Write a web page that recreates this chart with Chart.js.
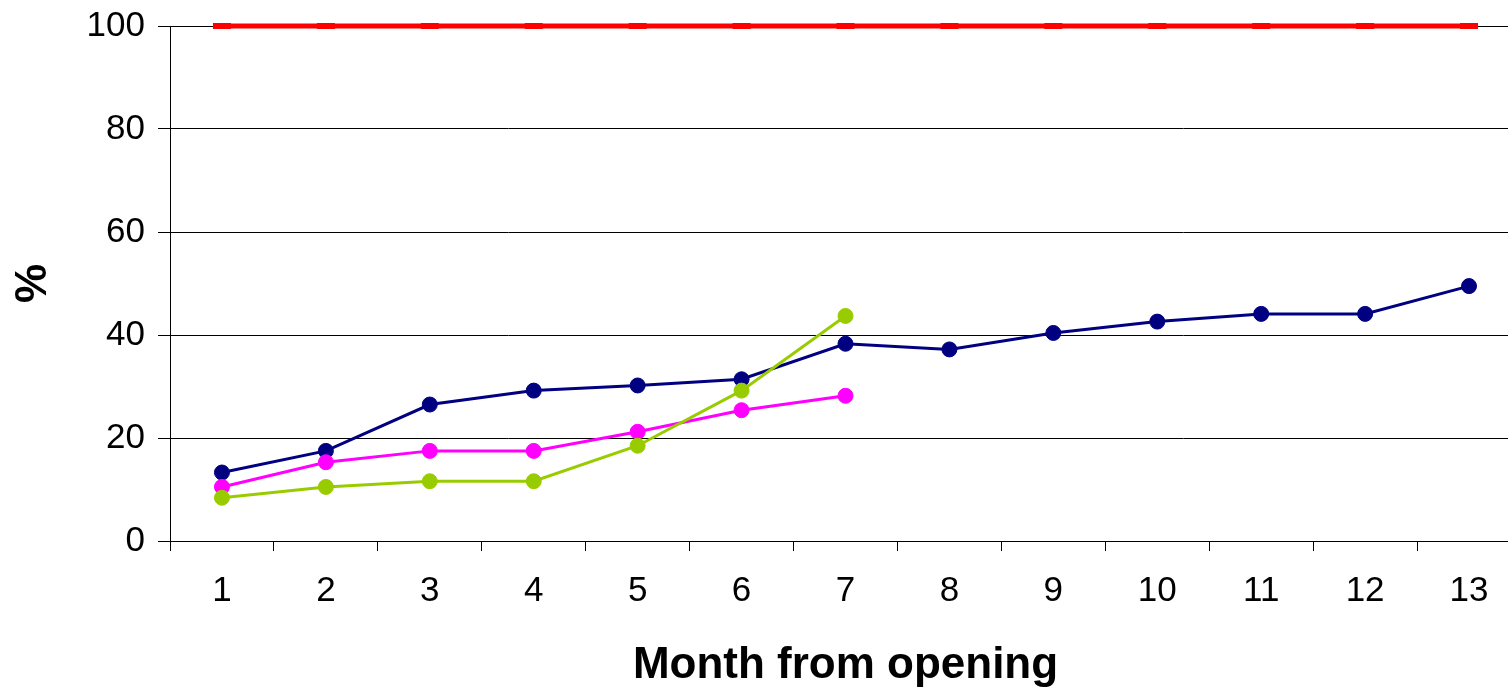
<!DOCTYPE html>
<html>
<head>
<meta charset="utf-8">
<script src="https://cdn.jsdelivr.net/npm/chart.js@4"></script>
<style>
  html, body { margin: 0; padding: 0; background: #fff; overflow: hidden; }
  #wrap { width: 1536px; height: 692px; }
</style>
</head>
<body>
<div id="wrap"><canvas id="c" width="1536" height="692"></canvas></div>
<script>
const months = ['1','2','3','4','5','6','7','8','9','10','11','12','13'];
const yTicks = [0, 20, 40, 60, 80, 100];
const targetSeries = [100,100,100,100,100,100,100,100,100,100,100,100,100];
const navySeries = [13.3, 17.5, 26.5, 29.2, 30.2, 31.4, 38.3, 37.2, 40.4, 42.6, 44.1, 44.1, 49.5];
const pinkSeries = [10.5, 15.3, 17.5, 17.5, 21.2, 25.4, 28.2];
const greenSeries = [8.4, 10.5, 11.6, 11.6, 18.5, 29.2, 43.7];

const FONT = '"Liberation Sans", Arial, Helvetica, sans-serif';

function lineDs(data, color) {
  return {
    data: data,
    borderColor: color,
    backgroundColor: color,
    borderWidth: 3,
    pointRadius: 7.5,
    pointBorderWidth: 1,
    pointBorderColor: color,
    pointBackgroundColor: color,
    pointStyle: 'circle',
    tension: 0,
    fill: false
  };
}

new Chart(document.getElementById('c'), {
  type: 'line',
  data: {
    labels: months,
    datasets: [
      lineDs(greenSeries, '#99CC00'),
      lineDs(pinkSeries, '#FF00FF'),
      lineDs(navySeries, '#000080'),
      {
        data: targetSeries,
        borderColor: '#FF0000',
        backgroundColor: '#FF0000',
        borderWidth: 5,
        pointStyle: 'line',
        pointRadius: 9,
        pointBorderWidth: 6,
        pointBorderColor: '#FF0000',
        tension: 0,
        fill: false,
        clip: false
      }
    ]
  },
  options: {
    responsive: false,
    animation: false,
    events: [],
    layout: { padding: { top: 26, right: 10, bottom: 0, left: 0 } },
    plugins: { legend: { display: false }, tooltip: { enabled: false } },
    scales: {
      x: {
        offset: true,
        afterFit: (s) => { s.height = 151; },
        grid: {
          offset: true,
          drawOnChartArea: false,
          drawTicks: true,
          tickLength: 10,
          color: '#000',
          lineWidth: 1
        },
        border: { display: true, color: '#000', width: 1 },
        ticks: {
          color: '#000',
          font: { family: FONT, size: 35 },
          padding: 19,
          autoSkip: false,
          maxRotation: 0
        },
        title: {
          display: true,
          text: 'Month from opening',
          color: '#000',
          font: { family: FONT, size: 44, weight: 'bold' },
          padding: { top: 0, bottom: 0 }
        }
      },
      y: {
        min: 0,
        max: 100,
        afterFit: (s) => { s.width = 170; s.paddingTop = 0; s.paddingBottom = 0; },
        afterBuildTicks: (s) => { s.ticks = yTicks.map(v => ({ value: v })); },
        grid: {
          drawTicks: true,
          tickLength: 12,
          color: '#000',
          lineWidth: 1
        },
        border: { display: true, color: '#000', width: 1 },
        ticks: {
          color: '#000',
          font: { family: FONT, size: 35 },
          padding: 13
        },
        title: {
          display: true,
          text: '%',
          color: '#000',
          font: { family: FONT, size: 44, weight: 'bold' },
          padding: { top: 7, bottom: 0 }
        }
      }
    }
  }
});
</script>
</body>
</html>
